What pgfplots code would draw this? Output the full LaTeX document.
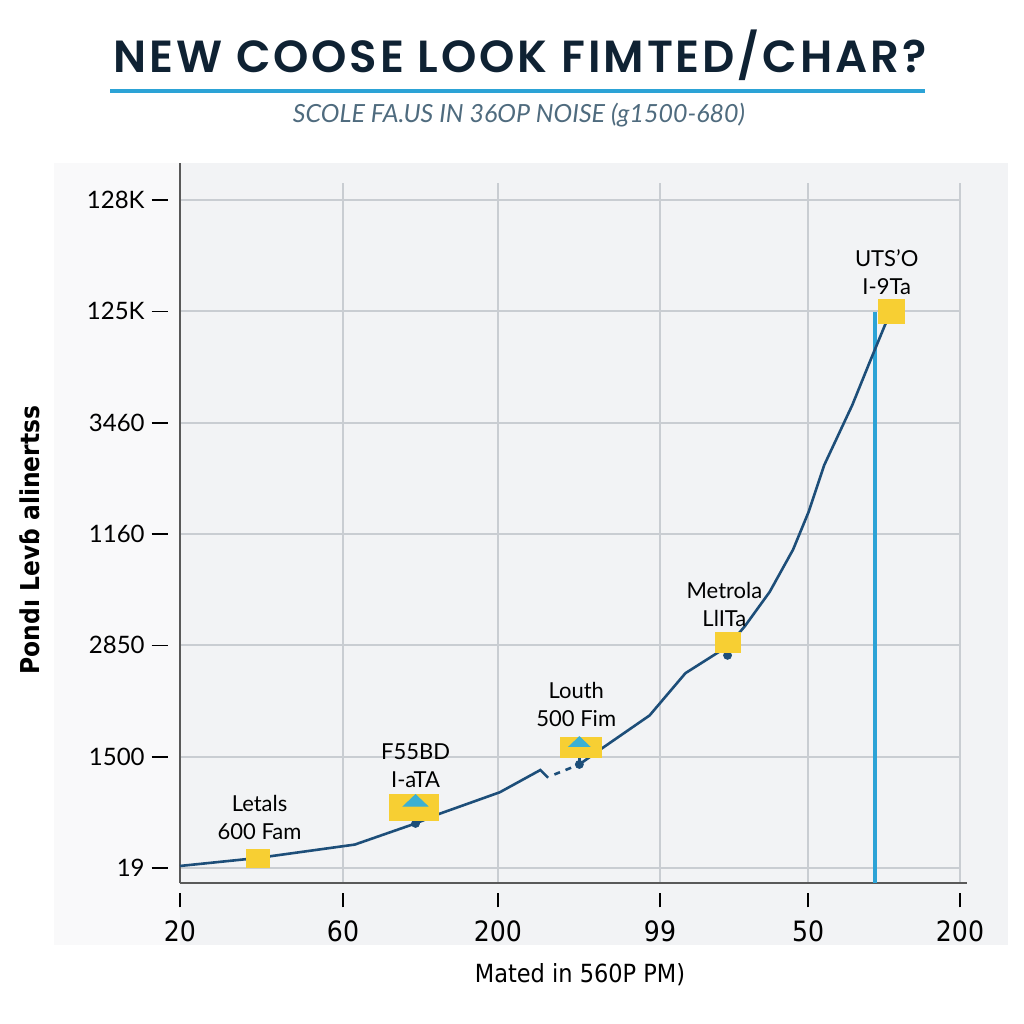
\documentclass[border=0pt]{standalone}
\usepackage{pgfplots}
\pgfplotsset{compat=1.18}
\usepackage{fontspec}
\setmainfont{Lato}
\newfontfamily\titlefont[LetterSpace=6.5]{Poppins SemiBold}
\newfontfamily\condfont{DejaVu Sans Condensed}

\definecolor{navy}{HTML}{1D4E79}
\definecolor{titlenavy}{HTML}{0F2233}
\definecolor{skyline}{HTML}{2CA3D6}
\definecolor{boxyellow}{HTML}{F7CF33}
\definecolor{arrowblue}{HTML}{3BB0D3}
\definecolor{gridgray}{HTML}{C9CDD2}
\definecolor{panelgray}{HTML}{F2F3F5}
\definecolor{paneledge}{HTML}{F9F9FA}
\definecolor{subgray}{HTML}{4F6B7E}

\begin{document}
\begin{tikzpicture}
\useasboundingbox (0,0) rectangle (512pt,512pt);
% background panels
\fill[white] (0,0) rectangle (512pt,512pt);
\fill[paneledge] (27pt,39.5pt) rectangle (90pt,430.5pt);
\fill[panelgray] (90pt,39.5pt) rectangle (504pt,430.5pt);

% title block
\node[anchor=base, text=titlenavy, font=\titlefont\fontsize{22.5}{26}\selectfont] at (260pt,475.5pt) {NEW COOSE LOOK FIMTED/CHAR?};
\draw[skyline, line width=2pt] (55pt,466.5pt) -- (462.5pt,466.5pt);
\node[anchor=base, text=subgray, font=\itshape\fontsize{12.5}{14}\selectfont] at (259.5pt,450.5pt) {SCOLE FA.US IN 36OP NOISE (g1500-680)};

% axis labels
\node[rotate=90, font=\condfont\bfseries\fontsize{13}{15}\selectfont] at (15pt,242pt) {Pondı Levɓ alinertss};
\node[font=\condfont\fontsize{12.5}{15}\selectfont] at (290pt,24.5pt) {Mated in 560P PM)};

\begin{axis}[
    at={(90pt,70.5pt)}, anchor=south west,
    scale only axis,
    width=390pt, height=350pt,
    xmin=0, xmax=5,
    ymin=-0.135, ymax=6.153,
    axis x line*=bottom,
    axis y line*=left,
    axis line style={draw=black!65, line width=1pt},
    x axis line style={shorten >=-3.5pt},
    y axis line style={shorten >=-10pt},
    grid=major,
    major grid style={draw=gridgray, line width=1pt},
    major tick length=0pt,
    xtick={0,1.045,2.038,3.077,4.026,5},
    xticklabels={
        {\rule{0.9pt}{7pt}\\20},
        {\rule{0.9pt}{7pt}\\60},
        {\rule{0.9pt}{7pt}\\200},
        {\rule{0.9pt}{7pt}\\99},
        {\rule{0.9pt}{7pt}\\50},
        {\rule{0.9pt}{7pt}\\200}},
    xticklabel style={align=center, inner sep=0pt, yshift=-5pt,
        font=\condfont\fontsize{14}{17}\selectfont},
    ytick={0,1,2,3,4,5,6},
    yticklabels={
        {19\hspace{3.5pt}\rule[3.8pt]{8pt}{0.9pt}},
        {1500\hspace{3.5pt}\rule[3.8pt]{8pt}{0.9pt}},
        {2850\hspace{3.5pt}\rule[3.8pt]{8pt}{0.9pt}},
        {1160\hspace{3.5pt}\rule[3.8pt]{8pt}{0.9pt}},
        {3460\hspace{3.5pt}\rule[3.8pt]{8pt}{0.9pt}},
        {125K\hspace{3.5pt}\rule[3.8pt]{8pt}{0.9pt}},
        {128K\hspace{3.5pt}\rule[3.8pt]{8pt}{0.9pt}}},
    yticklabel style={anchor=east, inner sep=0pt, xshift=-6pt,
        font=\fontsize{12}{14}\selectfont},
    clip=false,
]
% vertical marker line
\addplot[skyline, line width=1.6pt] coordinates {(4.455,4.99) (4.455,-0.135)};

% main series
\addplot[navy, line width=1.3pt] coordinates {
    (0,0.018) (0.50,0.09) (1.12,0.21) (1.51,0.40) (1.67,0.49)
    (2.05,0.68) (2.31,0.88) (2.36,0.81)
};
\addplot[navy, line width=1.3pt, dashed] coordinates {(2.40,0.84) (2.56,0.93)};
\addplot[navy, line width=1.3pt] coordinates {
    (2.56,0.93) (2.69,1.06) (3.01,1.37) (3.24,1.75) (3.51,1.99)
    (3.62,2.17) (3.78,2.48) (3.93,2.86) (4.03,3.20) (4.13,3.62)
    (4.31,4.16) (4.42,4.54) (4.52,4.88) (4.56,5.00)
};

% dots
\addplot[only marks, mark=*, mark size=2pt, navy] coordinates {
    (1.51,0.40) (2.56,0.93) (3.51,1.91)
};

% yellow boxes
\addplot[only marks, mark=square*, mark size=4.5pt, boxyellow, mark options={xscale=1.28}] coordinates {(0.50,0.09)};
\addplot[only marks, mark=square*, mark size=6.5pt, boxyellow, mark options={xscale=1.9}] coordinates {(1.50,0.54)};
\addplot[only marks, mark=square*, mark size=5pt, boxyellow, mark options={xscale=2.05}] coordinates {(2.57,1.08)};
\addplot[only marks, mark=square*, mark size=5pt, boxyellow, mark options={xscale=1.25}] coordinates {(3.51,2.03)};
\addplot[only marks, mark=square*, mark size=6pt, boxyellow, mark options={xscale=1.12}] coordinates {(4.56,5.00)};

% arrow stems and heads
\addplot[navy, line width=1.2pt] coordinates {(1.51,0.40) (1.51,0.58)};
\addplot[navy, line width=1.2pt] coordinates {(2.56,0.93) (2.56,1.10)};
\addplot[only marks, mark=triangle*, mark size=7pt, arrowblue, mark options={yscale=0.55}] coordinates {(1.51,0.59)};
\addplot[only marks, mark=triangle*, mark size=6pt, arrowblue, mark options={yscale=0.55}] coordinates {(2.56,1.12)};

% annotations
\begin{scope}[every node/.style={align=center, font=\fontsize{11}{14}\selectfont, text=black}]
\node at (axis cs:0.51,0.45) {Letals\\600 Fam};
\node at (axis cs:1.51,0.92) {F55BD\\I-aTA};
\node at (axis cs:2.54,1.47) {Louth\\500 Fim};
\node at (axis cs:3.49,2.37) {Metrola\\LlITa};
\node at (axis cs:4.53,5.35) {UTS'O\\I-9Ta};
\end{scope}
\end{axis}
\end{tikzpicture}
\end{document}
